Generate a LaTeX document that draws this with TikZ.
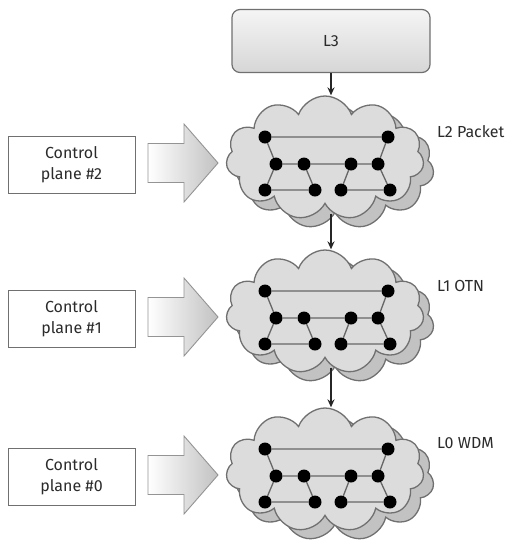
\documentclass[tikz,border=0pt]{standalone}
\usepackage{fontspec}
\setmainfont{Fira Sans}
\usetikzlibrary{shapes.symbols,arrows.meta}
\definecolor{linegray}{HTML}{707070}
\definecolor{cloudfront}{HTML}{DCDCDC}
\definecolor{cloudback}{HTML}{C2C2C2}
\definecolor{textgray}{HTML}{2B2B2B}
\tikzset{
  topbox/.style={draw=linegray, line width=1.2pt, rounded corners=8pt,
    top color=white!96!black, bottom color=black!16,
    minimum width=198pt, minimum height=63pt, text=textgray},
  cpbox/.style={draw=linegray, line width=1pt, fill=white,
    minimum width=127pt, minimum height=57pt, align=center, text=textgray},
  cloudshape/.style={cloud, cloud puffs=11, cloud puff arc=140, aspect=1.6,
    draw=linegray, line width=1.3pt, minimum width=198pt, minimum height=124pt,
    inner sep=0pt},
  frontcloud/.style={cloudshape, fill=cloudfront},
  backcloud/.style={cloudshape, fill=cloudback},
  netdot/.style={circle, fill=black, inner sep=0pt, minimum size=13pt},
  netlink/.style={draw=black!60, line width=1.3pt},
  bigarrow/.style={draw=black!42, line width=0.9pt, left color=white, right color=black!24},
  layerlabel/.style={anchor=west, text=textgray, inner sep=0pt},
  flow/.style={draw=black!85, line width=1.4pt, -{Stealth[length=8pt,width=7pt]}}
}
\begin{document}
\begin{tikzpicture}[x=1pt, y=-1pt, font=\fontsize{16}{21}\selectfont]
\useasboundingbox (0,0) rectangle (514,550);

% top layer box
\node[topbox] (l3) at (331,41) {L3};

% three transport layers, each with its control plane
\foreach \d/\n/\lab in {0/2/L2 Packet, 154/1/L1 OTN, 312/0/L0 WDM}{
  % control plane box and hollow arrow pointing at the cloud
  \node[cpbox] (cp\n) at (71.5,164.5+\d) {Control\\plane \#\n};
  \path[bigarrow] (148,143.5+\d) -- (184,143.5+\d) -- (184,124+\d) -- (218,163+\d)
        -- (184,202+\d) -- (184,182.5+\d) -- (148,182.5+\d) -- cycle;

  % stacked cloud
  \node[backcloud]  (cb\n) at (335,167+\d) {};
  \node[frontcloud] (cf\n) at (325,158+\d) {};

  % network nodes
  \node[netdot] (t1-\n) at (265,137+\d) {};
  \node[netdot] (t2-\n) at (388,137+\d) {};
  \node[netdot] (m1-\n) at (276,164+\d) {};
  \node[netdot] (m2-\n) at (304,164+\d) {};
  \node[netdot] (m3-\n) at (351,164+\d) {};
  \node[netdot] (m4-\n) at (378,164+\d) {};
  \node[netdot] (b1-\n) at (265,190+\d) {};
  \node[netdot] (b2-\n) at (315,190+\d) {};
  \node[netdot] (b3-\n) at (341,190+\d) {};
  \node[netdot] (b4-\n) at (390,190+\d) {};
  \path[netlink] (t1-\n) -- (t2-\n)
                 (t1-\n) -- (m1-\n)
                 (t2-\n) -- (m4-\n)
                 (m1-\n) -- (m2-\n) -- (m3-\n) -- (m4-\n)
                 (m1-\n) -- (b1-\n)
                 (m2-\n) -- (b2-\n)
                 (m3-\n) -- (b3-\n)
                 (m4-\n) -- (b4-\n)
                 (b1-\n) -- (b2-\n)
                 (b3-\n) -- (b4-\n);

  \node[layerlabel] (lab\n) at (437,131.5+\d) {\lab};
}

% vertical flow between layers
\draw[flow] (l3.south) -- (l3.south |- cf2.north);
\draw[flow] (l3.south |- cb2.south) -- (l3.south |- cf1.north);
\draw[flow] (l3.south |- cb1.south) -- (l3.south |- cf0.north);
\end{tikzpicture}
\end{document}
